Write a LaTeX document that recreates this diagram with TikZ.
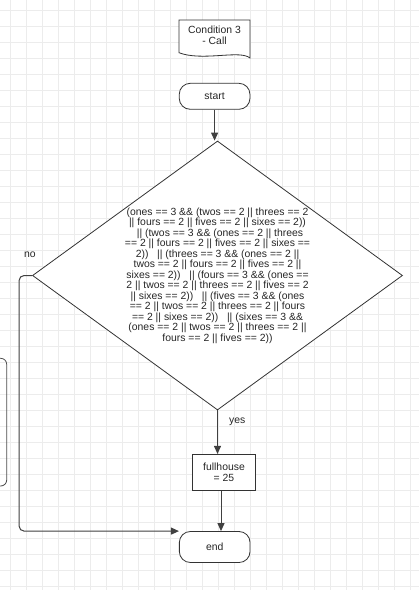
\documentclass[tikz,border=0pt]{standalone}
\usepackage{fontspec}
\setmainfont{Liberation Sans}
\usetikzlibrary{shapes.geometric,arrows.meta}
\begin{document}
\begin{tikzpicture}[x=1pt,y=-1pt,
  gridline/.style={draw=gray!15,line width=0.8pt},
  shapeline/.style={draw=black!80,line width=0.8pt,fill=white},
  terminal/.style={shapeline,rounded corners=11pt,minimum width=70.7pt,minimum height=26pt,inner sep=0pt},
  procbox/.style={shapeline,minimum width=63.4pt,minimum height=36.4pt,inner sep=0pt,align=center},
  decision/.style={shapeline,diamond,minimum width=370pt,minimum height=269pt,inner sep=0pt},
  conn/.style={draw=black!75,line width=1pt,-{Triangle[length=8pt,width=7pt]}},
  lbl/.style={inner sep=0pt},
  every node/.style={text=black!85,font=\fontsize{10.4}{10.5}\selectfont}
]
\useasboundingbox (0,0) rectangle (419,590);
\begin{scope}
\clip (0,0) rectangle (419,590);
\fill[white] (0,0) rectangle (419,590);
\foreach \k in {0,...,25} \draw[gridline] (10.7+16*\k,0) -- (10.7+16*\k,590);
\foreach \k in {0,...,36} \draw[gridline] (0,10+16*\k) -- (419,10+16*\k);
\draw[draw=black!70,line width=0.8pt,rounded corners=6pt] (-12,358.3) rectangle (6.7,486);
\end{scope}

% document shape
\draw[shapeline] (179,20) -- (250,20) -- (250,58)
  .. controls (245,54) and (235,54.5) .. (220,55.5)
  .. controls (205,56.5) and (190,57) .. (179,52.7) -- cycle;
\node[lbl,align=center] (doc) at (214.5,35.3) {Condition 3\\- Call};

\node[terminal] (start) at (214.6,96.3) {start};
\node[decision] (cond) at (217.5,275.5) {};
\node[lbl,align=center] (condtext) at (cond.center) {%
(ones == 3 \&\& (twos == 2 || threes == 2\\
|| fours == 2 || fives == 2 || sixes == 2))\\
\hspace*{5pt}|| (twos == 3 \&\& (ones == 2 || threes\\
== 2 || fours == 2 || fives == 2 || sixes ==\\
2))\ \ \ || (threes == 3 \&\& (ones == 2 ||\\
twos == 2 || fours == 2 || fives == 2 ||\\
sixes == 2))\ \ \ || (fours == 3 \&\& (ones ==\\
2 || twos == 2 || threes == 2 || fives == 2\\
|| sixes == 2))\ \ \ || (fives == 3 \&\& (ones\\
== 2 || twos == 2 || threes == 2 || fours\\
== 2 || sixes == 2))\ \ \ || (sixes == 3 \&\&\\
(ones == 2 || twos == 2 || threes == 2 ||\\
fours == 2 || fives == 2))};
\node[procbox] (fh) at (224,472.5) {fullhouse\\= 25};
\node[terminal,minimum height=31pt] (end) at (214.7,547) {end};

\node[lbl] (nolbl) at (30,255) {no};
\node[lbl] (yeslbl) at (237.3,421.7) {yes};

\draw[conn] (start.south) -- (start.south |- cond.north);
\draw[conn] (cond.south) -- (cond.south |- fh.north);
\draw[conn] ([xshift=-3pt]fh.south) -- ([xshift=-3pt]fh.south |- end.north);
\draw[conn,rounded corners=5pt] (cond.west) -- ++(-13,0) |- (end.north west);
\end{tikzpicture}
\end{document}
